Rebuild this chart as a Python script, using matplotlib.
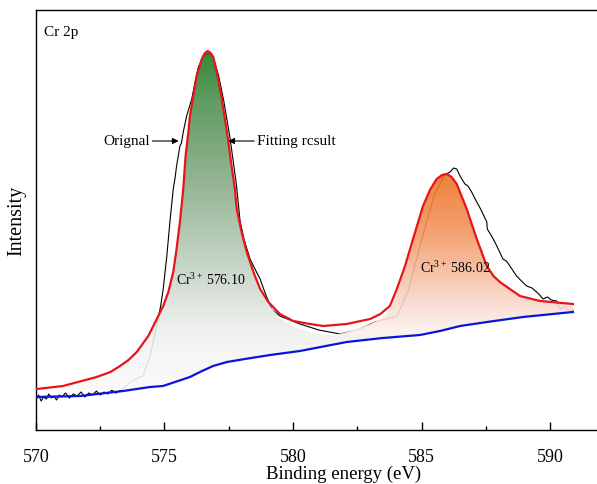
"""Cr 2p XPS spectrum with two fitted components over a Shirley-type background."""

import matplotlib
matplotlib.use("Agg")
from matplotlib import pyplot as plt
from matplotlib.colors import LinearSegmentedColormap
from matplotlib.patches import Polygon
import numpy as np

plt.rcParams["font.family"] = "Liberation Serif"
plt.rcParams["mathtext.fontset"] = "custom"
plt.rcParams["mathtext.rm"] = "Liberation Serif"
plt.rcParams["mathtext.it"] = "Liberation Serif:italic"

# Background (blue)
bg_x = [570.00, 571.71, 573.39, 574.44, 574.94, 575.41, 575.99, 576.38, 576.89,
        577.43, 578.13, 579.11, 580.27, 582.09, 583.50, 584.94, 585.72, 586.50,
        587.55, 588.95, 590.89]
bg_y = [33, 34, 39, 43, 44, 48, 53, 58, 64, 68, 71, 75, 79, 88, 92, 95, 99, 104,
        108, 113, 118]

# Fitted envelope (red)
env_x = [570.03, 571.05, 572.36, 572.90, 573.27, 573.60, 573.92, 574.37, 574.70,
         574.95, 575.15, 575.34, 575.47, 575.60, 575.73, 575.82, 575.93, 575.99,
         576.12, 576.25, 576.45, 576.57, 576.68, 576.79, 576.90, 577.09, 577.23,
         577.35, 577.46, 577.61, 577.74, 577.81, 578.00, 578.20, 578.46, 578.72,
         579.04, 579.49, 580.01, 580.66, 581.17, 582.09, 583.00, 583.40, 583.77,
         584.04, 584.36, 584.67, 585.06, 585.33, 585.59, 585.80, 585.98, 586.17,
         586.37, 586.76, 587.15, 587.54, 587.80, 588.05, 588.83, 589.61, 590.89]
env_y = [41, 44, 53, 58, 64, 70, 78, 94, 111, 124, 138, 158, 181, 208, 241, 274,
         298, 314, 334, 354, 371, 377, 379, 377, 373, 351, 331, 311, 293, 264, 241,
         221, 198, 178, 158, 141, 128, 116, 109, 106, 104, 106, 111, 116, 124, 141,
         164, 191, 224, 240, 251, 255, 256, 253, 246, 221, 191, 164, 154, 148, 134,
         129, 126]

# Component 1 (Cr3+ 576.10) upper edge
c1_x = [570.03, 571.05, 572.36, 572.90, 573.27, 573.60, 573.92, 574.37, 574.70,
        574.95, 575.15, 575.34, 575.47, 575.60, 575.73, 575.82, 575.93, 575.99,
        576.12, 576.25, 576.45, 576.57, 576.68, 576.79, 576.90, 577.09, 577.23,
        577.35, 577.46, 577.61, 577.74, 577.81, 578.00, 578.20, 578.46, 578.72,
        579.04, 579.49, 580.01, 580.66, 581.17, 582.09, 583.00, 584.00, 585.00,
        586.00, 587.00, 588.00, 589.00, 590.89]
c1_y = [40, 43, 52, 57, 63, 69, 77, 93, 110, 123, 137, 157, 180, 207, 240, 273,
        297, 313, 333, 353, 370, 376, 378, 376, 372, 350, 330, 310, 292, 263, 240,
        220, 197, 176, 156, 139, 126, 112, 103, 98, 95, 95, 96, 98, 100, 103, 107,
        110, 114, 119]

# Component 2 (Cr3+ 586.02) upper edge
c2_x = [570.00, 575.00, 577.00, 579.11, 580.27, 581.17, 582.09, 583.00, 583.40,
        583.77, 584.04, 584.36, 584.67, 585.06, 585.33, 585.59, 585.80, 585.98,
        586.17, 586.37, 586.76, 587.15, 587.54, 587.80, 588.05, 588.83, 589.61,
        590.89]
c2_y = [34, 45, 66, 77, 84, 92, 98, 106, 111, 119, 137, 161, 189, 222, 238, 250,
        254, 255, 252, 245, 220, 190, 163, 153, 147, 133, 128, 125]

# Original spectrum (black)
raw_x = [570.00, 570.10, 570.20, 570.30, 570.40, 570.50, 570.60, 570.70, 570.80,
         570.90, 571.00, 571.15, 571.30, 571.45, 571.60, 571.75, 571.90, 572.05,
         572.20, 572.35, 572.50, 572.65, 572.80, 572.95, 573.10, 573.25, 573.50,
         573.80, 574.16, 574.45, 574.70, 574.85, 574.95, 575.09, 575.21, 575.34,
         575.40, 575.47, 575.60, 575.66, 575.73, 575.86, 575.92, 576.06, 576.10,
         576.19, 576.32, 576.50, 576.70, 576.90, 577.10, 577.30, 577.55, 577.80,
         577.94, 578.10, 578.33, 578.50, 578.72, 578.90, 579.17, 579.49, 580.27,
         581.00, 581.83, 582.49, 583.20, 584.05, 584.50, 585.00, 585.50, 585.90,
         586.11, 586.25, 586.37, 586.50, 586.69, 586.81, 586.95, 587.15, 587.30,
         587.54, 587.56, 587.75, 587.93, 588.17, 588.30, 588.44, 588.70, 588.85,
         589.09, 589.30, 589.48, 589.60, 589.73, 589.90, 590.05, 590.26, 590.39,
         590.55, 590.78, 590.89]
raw_y = [30, 35, 29, 33, 31, 36, 32, 34, 30, 35, 33, 37, 32, 36, 34, 38, 33, 37,
         35, 39, 35, 38, 36, 40, 37, 39, 44, 50, 54, 75, 105, 124, 141, 174, 208,
         241, 250, 264, 284, 287, 298, 314, 319, 331, 336, 348, 363, 373, 377, 372,
         355, 330, 292, 245, 209, 190, 171, 162, 151, 138, 121, 114, 106, 100, 96,
         100, 108, 114, 140, 190, 235, 255, 258, 262, 261, 254, 246, 244, 238, 228,
         221, 208, 201, 193, 184, 171, 169, 164, 154, 150, 144, 142, 138, 135, 131,
         133, 130, 129, 121, 123, 119, 120]

ticks_major = [570, 575, 580, 585, 590]

fig = plt.figure(figsize=(5.97, 4.85), dpi=100)
ax = fig.add_axes([36 / 597, 54 / 485, 561 / 597, 420 / 485])

ax.plot(raw_x, raw_y, color="black", lw=0.8, zorder=2)


def gradient_fill(top_x, top_y, colors, ylo, yhi):
    verts = list(zip(top_x, top_y)) + list(zip(bg_x[::-1], bg_y[::-1]))
    poly = Polygon(verts, closed=True, facecolor="none", edgecolor="none")
    ax.add_patch(poly)
    cmap = LinearSegmentedColormap.from_list("g", colors)
    grad = np.linspace(0, 1, 256).reshape(-1, 1)
    im = ax.imshow(grad, cmap=cmap, origin="lower", aspect="auto",
                   extent=[570, 592, ylo, yhi], alpha=0.9, zorder=3)
    im.set_clip_path(poly)


gradient_fill(c1_x, c1_y,
              [(0.0, "#fbfbfb"), (0.18, "#eef0ee"), (0.33, "#c9d6c9"),
               (0.62, "#86ab86"), (0.85, "#4d9150"), (1.0, "#1d7a20")],
              40, 380)
gradient_fill(c2_x, c2_y,
              [(0.0, "#fdf3f0"), (0.15, "#fae0d6"), (0.42, "#f6b898"),
               (0.65, "#f3955e"), (1.0, "#ee7424")],
              95, 256)

ax.plot(bg_x, bg_y, color="#0a14d8", lw=1.6, zorder=4)
ax.plot(env_x, env_y, color="#e8141a", lw=1.6, zorder=5)

ax.text(0.015, 0.965, "Cr 2p", transform=ax.transAxes, fontsize=11,
        ha="left", va="top")
ax.text(575.45, 151, r"Cr$^{3+}$ 576.10", fontsize=10, ha="left", va="center",
        zorder=6)
ax.text(584.95, 163, r"Cr$^{3+}$ 586.02", fontsize=10, ha="left", va="center",
        zorder=6)

arrow = dict(arrowstyle="-|>", color="black", lw=0.8, mutation_scale=9,
             shrinkA=0, shrinkB=0)
ax.annotate("Orignal", xy=(575.55, 289), xytext=(574.42, 289), fontsize=11,
            ha="right", va="center", arrowprops=arrow, zorder=6)
ax.annotate("Fitting rcsult", xy=(577.48, 289), xytext=(578.60, 289),
            fontsize=11, ha="left", va="center", arrowprops=arrow, zorder=6)

ax.set_xlim(570, 570 + 561 / 25.7)
ax.set_ylim(0, 420)
ax.set_xticks(ticks_major)
ax.set_xticks(np.arange(572.5, 591, 5), minor=True)
ax.set_yticks([])
ax.tick_params(axis="x", which="major", direction="in", length=6, width=1.0,
               labelsize=13, pad=13)
ax.tick_params(axis="x", which="minor", direction="in", length=3, width=1.0)
for side in ["left", "bottom", "top"]:
    ax.spines[side].set_linewidth(1.0)
ax.spines["right"].set_visible(False)

ax.set_xlabel("Binding energy (eV)", fontsize=13.5)
ax.xaxis.set_label_coords(0.549, -0.082)
ax.set_ylabel("Intensity", fontsize=14.5)
ax.yaxis.set_label_coords(-0.017, 0.5)

fig.savefig("out.png", dpi=100)
